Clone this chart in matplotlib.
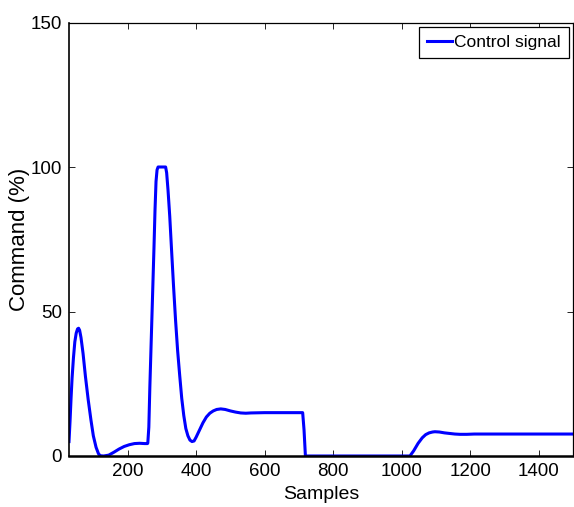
import matplotlib
matplotlib.use("Agg")
import matplotlib.pyplot as plt

plt.rcParams['font.family'] = ['Liberation Sans', 'DejaVu Sans']

samples = [29, 32, 35, 38, 42, 46, 50, 54, 57, 60, 64, 70, 77, 85, 93, 100, 108, 115, 120,
           130, 145, 160, 175, 190, 205, 220, 235, 250, 258,
           259, 262, 265, 268, 271, 274, 277, 280, 283, 286, 289,
           311, 314, 318, 323, 328, 334, 340, 346, 352, 358, 364, 370, 376, 382, 388,
           394, 400, 410, 420, 430, 440, 450, 460, 472, 485, 500, 515, 530, 545, 560,
           600, 650, 711, 715, 719, 800, 900, 1000, 1024, 1035, 1048, 1060, 1070, 1080,
           1090, 1097, 1110, 1125, 1140, 1155, 1170, 1190, 1212, 1300, 1400, 1500]
command = [5, 12, 20, 27, 34, 39.5, 42.5, 44, 44.2, 43.5, 41, 35.5, 27.5, 19.5, 12.5, 7, 3, 0.8, 0.1,
           0, 0.3, 1.3, 2.4, 3.3, 3.9, 4.3, 4.4, 4.3, 4.3,
           4.5, 10, 24, 36, 48, 60, 72, 85, 95, 99, 100,
           100, 98, 92, 83, 72, 59, 47, 36.5, 28, 20, 14, 9.5, 7, 5.5, 5.0,
           5.2, 6.5, 9, 11.5, 13.5, 14.8, 15.6, 16.1, 16.3, 16.1, 15.6, 15.2, 14.9, 14.8, 14.9,
           15.0, 15.0, 15.0, 9, 0, 0, 0, 0, 0, 1.8, 4.4, 6.3, 7.4, 8.0,
           8.3, 8.4, 8.3, 8.0, 7.8, 7.6, 7.5, 7.5, 7.6, 7.6, 7.6, 7.6]

x_ticks = [200, 400, 600, 800, 1000, 1200, 1400]
y_ticks = [0, 50, 100, 150]

fig = plt.figure(figsize=(5.74, 5.07), dpi=100)
ax = fig.add_axes([69/574, 51/507, 504/574, 433.5/507])

ax.plot(samples, command, color=(0, 0, 1), lw=2.2, label='Control signal')
ax.set_xlim(29, 1500)
ax.set_ylim(0, 150)
ax.set_xticks(x_ticks)
ax.set_yticks(y_ticks)
ax.tick_params(direction='in', top=True, right=True, length=4, width=0.6,
               labelsize=13.5, pad=5, colors='black')
for s in ax.spines.values():
    s.set_linewidth(0.9)
ax.spines['bottom'].set_linewidth(1.8)
ax.spines['left'].set_linewidth(1.2)

ax.set_xlabel('Samples', fontsize=14)
ax.xaxis.set_label_coords(0.5, -0.07)
ax.set_ylabel('Command (%)', fontsize=16)
ax.yaxis.set_label_coords(-0.077, 0.5)

leg = ax.legend(loc='upper right', fontsize=12.5, handlelength=1.4, handletextpad=0.15,
                borderpad=0.45, borderaxespad=0.25, fancybox=False, framealpha=1,
                edgecolor='black')
leg.get_frame().set_linewidth(0.9)

fig.savefig('out.png', dpi=100)
